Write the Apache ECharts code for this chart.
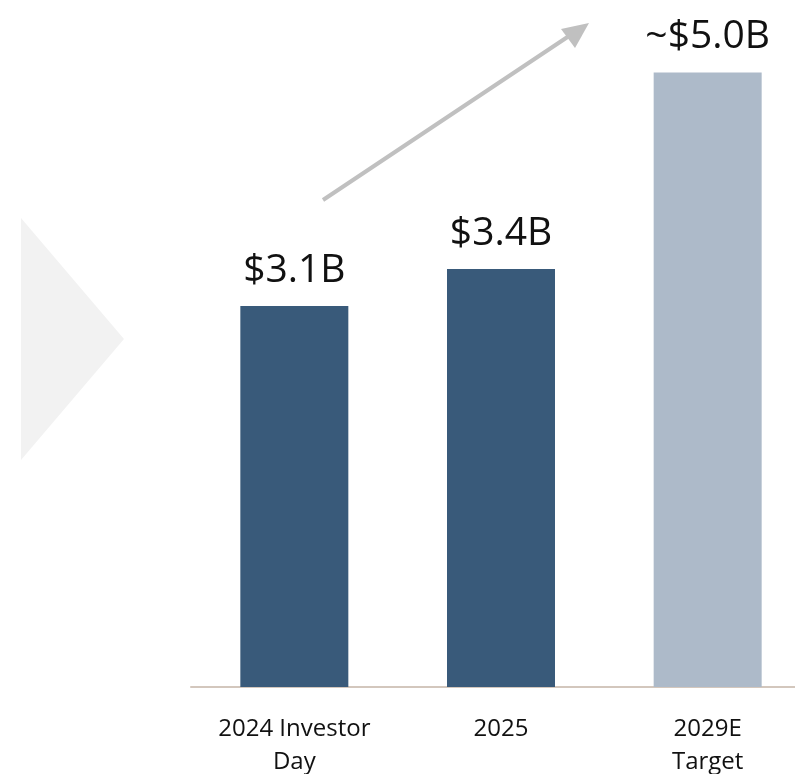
<!DOCTYPE html>
<html>
<head>
<meta charset="utf-8">
<script src="https://cdn.jsdelivr.net/npm/echarts@6/dist/echarts.min.js"></script>
<style>
  html, body { margin: 0; padding: 0; background: #fff; }
  #chart { width: 795px; height: 774px; }
</style>
</head>
<body>
<div id="chart"></div>
<script>
  const categories = ['2024 Investor\nDay', '2025', '2029E\nTarget']
  const values = [3.1, 3.4, 5.0]
  const valueLabels = ['$3.1B', '$3.4B', '~$5.0B']
  const barColors = ['#395a7a', '#395a7a', '#adbac9']

  const dataOptions = values.map((v, i) => ({
    value: v,
    itemStyle: { color: barColors[i] },
    label: { formatter: valueLabels[i] },
  }))

  const chart = echarts.init(document.getElementById('chart'))
  chart.setOption({
    animation: false,
    textStyle: { fontFamily: 'Open Sans' },
    grid: { left: 191, right: -16, top: 11, bottom: 87, outerBoundsMode: 'none', containLabel: false },
    xAxis: {
      type: 'category',
      data: categories,
      axisLine: { lineStyle: { color: '#d3c7bd', width: 2 } },
      axisTick: { show: false },
      axisLabel: {
        color: '#111',
        fontSize: 24,
        lineHeight: 33,
        margin: 26,
        interval: 0,
      },
    },
    yAxis: {
      type: 'value',
      min: 0,
      max: 5.5,
      show: false,
      splitLine: { show: false },
    },
    // decorative background chevron and growth arrow
    graphic: [
      {
        type: 'polygon',
        shape: { points: [[21, 218], [124, 339], [21, 460]] },
        style: { fill: '#f2f2f2' },
        z: -1,
      },
      {
        type: 'line',
        shape: { x1: 323, y1: 200, x2: 572, y2: 34 },
        style: { stroke: '#c0c0c0', lineWidth: 4 },
      },
      {
        type: 'polygon',
        shape: { points: [[589, 23], [575, 48], [561, 29]] },
        style: { fill: '#c0c0c0' },
      },
    ],
    series: [
      {
        type: 'bar',
        data: dataOptions,
        barWidth: 108,
        label: {
          show: true,
          position: 'top',
          distance: 16,
          color: '#111',
          fontSize: 39,
        },
      },
    ],
  })
</script>
</body>
</html>
